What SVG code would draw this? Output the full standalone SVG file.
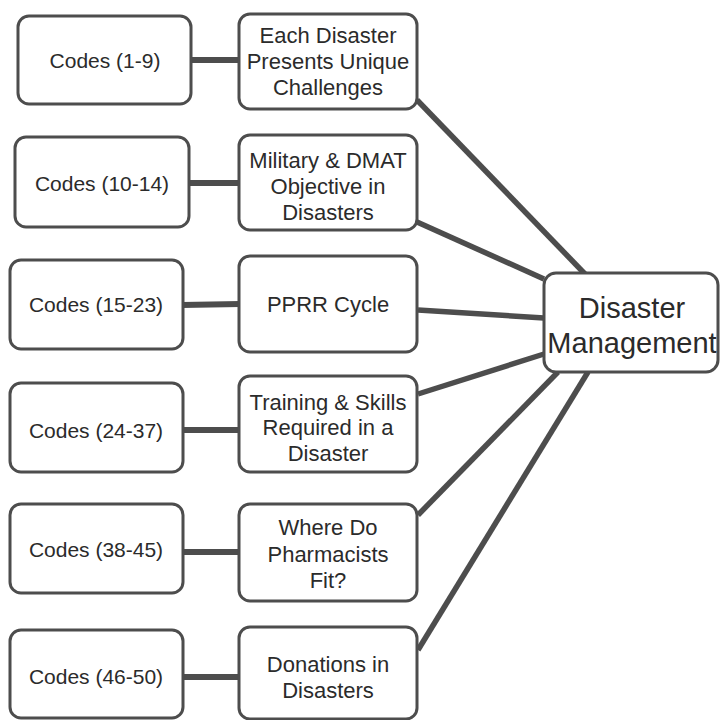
<svg xmlns="http://www.w3.org/2000/svg" width="720" height="720" viewBox="0 0 720 720">
  <style>
    .box { fill: #ffffff; stroke: #4d4d4d; stroke-width: 3; }
    .link { stroke: #4d4d4d; stroke-width: 6; fill: none; stroke-linecap: butt; }
    .spoke { stroke: #4d4d4d; stroke-width: 5.5; fill: none; }
    text { font-family: "Liberation Sans", Arial, sans-serif; fill: #2b2b2b; text-anchor: middle; }
    .code { font-size: 21px; }
    .topic { font-size: 22px; }
    .hub { font-size: 29px; }
  </style>
  <rect width="720" height="720" fill="#ffffff"/>

  <!-- connectors -->
  <g id="connectors">
    <!-- code boxes to topics -->
    <line class="link" x1="190" y1="60" x2="240" y2="60"/>
    <line class="link" x1="188" y1="183" x2="240" y2="183"/>
    <line class="link" x1="182" y1="305" x2="240" y2="304"/>
    <line class="link" x1="182" y1="430" x2="240" y2="430"/>
    <line class="link" x1="182" y1="552" x2="240" y2="552"/>
    <line class="link" x1="182" y1="677" x2="240" y2="677"/>
    <!-- topics to hub -->
    <line class="spoke" x1="417" y1="100" x2="585" y2="274"/>
    <line class="spoke" x1="417" y1="222" x2="544" y2="279"/>
    <line class="spoke" x1="418" y1="310" x2="544" y2="318"/>
    <line class="spoke" x1="418" y1="394" x2="544" y2="354"/>
    <line class="spoke" x1="418" y1="515" x2="558" y2="372"/>
    <line class="spoke" x1="418" y1="650" x2="588" y2="372"/>
  </g>

  <!-- code range nodes -->
  <g id="codes-1-9">
    <rect class="box" x="18" y="16" width="173" height="88" rx="11"/>
    <text class="code" x="105" y="68">Codes (1-9)</text>
  </g>
  <g id="codes-10-14">
    <rect class="box" x="15" y="137" width="174" height="90" rx="11"/>
    <text class="code" x="102" y="191">Codes (10-14)</text>
  </g>
  <g id="codes-15-23">
    <rect class="box" x="10" y="260" width="173" height="89" rx="11"/>
    <text class="code" x="96" y="312">Codes (15-23)</text>
  </g>
  <g id="codes-24-37">
    <rect class="box" x="10" y="383" width="173" height="89" rx="11"/>
    <text class="code" x="96" y="438">Codes (24-37)</text>
  </g>
  <g id="codes-38-45">
    <rect class="box" x="10" y="504" width="173" height="89" rx="11"/>
    <text class="code" x="96" y="557">Codes (38-45)</text>
  </g>
  <g id="codes-46-50">
    <rect class="box" x="10" y="630" width="173" height="88" rx="11"/>
    <text class="code" x="96" y="684">Codes (46-50)</text>
  </g>

  <!-- topic nodes -->
  <g id="unique-challenges">
    <rect class="box" x="239" y="14" width="178" height="95" rx="11"/>
    <text class="topic" x="328" y="43">Each Disaster</text>
    <text class="topic" x="328" y="69">Presents Unique</text>
    <text class="topic" x="328" y="95">Challenges</text>
  </g>
  <g id="military-dmat">
    <rect class="box" x="239" y="135" width="178" height="95" rx="11"/>
    <text class="topic" x="328" y="168">Military &amp; DMAT</text>
    <text class="topic" x="328" y="194">Objective in</text>
    <text class="topic" x="328" y="220">Disasters</text>
  </g>
  <g id="pprr-cycle">
    <rect class="box" x="239" y="256" width="178" height="96" rx="11"/>
    <text class="topic" x="328" y="312">PPRR Cycle</text>
  </g>
  <g id="training-skills">
    <rect class="box" x="239" y="376" width="178" height="96" rx="11"/>
    <text class="topic" x="328" y="410">Training &amp; Skills</text>
    <text class="topic" x="328" y="435">Required in a</text>
    <text class="topic" x="328" y="461">Disaster</text>
  </g>
  <g id="pharmacists">
    <rect class="box" x="239" y="504" width="178" height="97" rx="11"/>
    <text class="topic" x="328" y="535">Where Do</text>
    <text class="topic" x="328" y="562">Pharmacists</text>
    <text class="topic" x="328" y="588">Fit?</text>
  </g>
  <g id="donations">
    <rect class="box" x="239" y="627" width="178" height="92" rx="11"/>
    <text class="topic" x="328" y="672">Donations in</text>
    <text class="topic" x="328" y="698">Disasters</text>
  </g>

  <!-- central node -->
  <g id="disaster-management">
    <rect class="box" x="544" y="273" width="174" height="99" rx="12"/>
    <text class="hub" x="632" y="318">Disaster</text>
    <text class="hub" x="632" y="353">Management</text>
  </g>
</svg>
